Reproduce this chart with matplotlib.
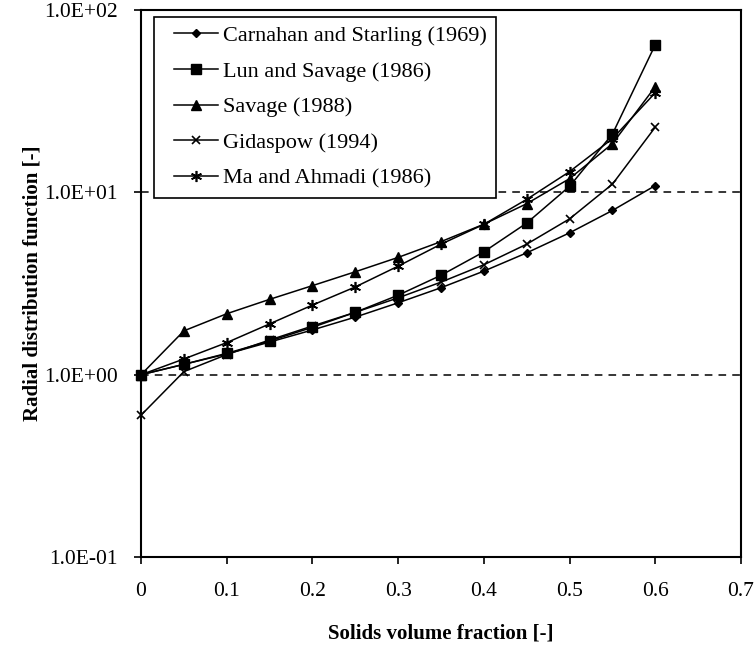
import matplotlib
matplotlib.use("Agg")
import matplotlib.pyplot as plt
from matplotlib.lines import Line2D
from matplotlib.legend_handler import HandlerLine2D
from matplotlib.ticker import FixedLocator, FuncFormatter

plt.rcParams["font.family"] = ["Liberation Serif", "DejaVu Serif"]

# solids volume fraction
eps = [0.0, 0.05, 0.10, 0.15, 0.20, 0.25, 0.30, 0.35, 0.40, 0.45, 0.50, 0.55, 0.60]

# radial distribution function
carnahan = [1.0, 1.14, 1.30, 1.51, 1.76, 2.07, 2.48, 3.00, 3.70, 4.66, 6.0, 7.96, 10.9]
lun = [1.0, 1.14, 1.31, 1.53, 1.82, 2.20, 2.73, 3.51, 4.72, 6.79, 10.8, 20.9, 64.6]
savage = [1.0, 1.74, 2.16, 2.59, 3.08, 3.67, 4.40, 5.37, 6.69, 8.67, 11.9, 18.5, 38.0]
gidaspow = [0.6, 1.04, 1.29, 1.55, 1.85, 2.20, 2.64, 3.22, 4.01, 5.20, 7.16, 11.1, 22.8]
ma_ahmadi = [1.0, 1.22, 1.50, 1.90, 2.41, 3.03, 3.94, 5.20, 6.68, 9.16, 13.0, 19.7, 35.2]

labels = [
    "Carnahan and Starling (1969)",
    "Lun and Savage (1986)",
    "Savage (1988)",
    "Gidaspow (1994)",
    "Ma and Ahmadi (1986)",
]


class PadHandler(HandlerLine2D):
    """Legend line handler with some blank space left of the line."""

    def __init__(self, lpad, **kw):
        super().__init__(**kw)
        self.lpad = lpad

    def create_artists(self, legend, orig_handle, xdescent, ydescent,
                       width, height, fontsize, trans):
        return super().create_artists(legend, orig_handle,
                                      xdescent - self.lpad, ydescent,
                                      width - self.lpad, height, fontsize, trans)


fig = plt.figure(figsize=(7.55, 6.47), dpi=100)
ax = fig.add_axes([0.1868, 0.139, 0.7947, 0.8455])

styles = [
    dict(marker="D", markersize=4.5),
    dict(marker="s", markersize=6.5),
    dict(marker="^", markersize=7),
    dict(marker="x", markersize=6, markeredgewidth=1.2),
    dict(marker=(6, 2, 0), markersize=8, markeredgewidth=1.2),
]
series = [carnahan, lun, savage, gidaspow, ma_ahmadi]
for vals, lab, st in zip(series, labels, styles):
    ax.plot(eps, vals, color="black", lw=1.1, label=lab, clip_on=False,
            zorder=3, **st)

ax.set_yscale("log")
ax.set_ylim(0.1, 100)
ax.set_xlim(0, 0.7)
ax.yaxis.set_major_locator(FixedLocator([0.1, 1, 10, 100]))
ax.yaxis.set_minor_locator(FixedLocator([]))
ax.yaxis.set_major_formatter(FuncFormatter(lambda v, p: "%.1E" % v))
ax.set_xticks([0, 0.1, 0.2, 0.3, 0.4, 0.5, 0.6, 0.7])
ax.set_xticklabels(["0", "0.1", "0.2", "0.3", "0.4", "0.5", "0.6", "0.7"])

for yv in (1, 10):
    ax.axhline(yv, color="black", lw=1.1, ls=(0, (5, 4)), zorder=1)

for s in ax.spines.values():
    s.set_linewidth(1.5)
ax.tick_params(direction="out", length=5, width=1.2, labelsize=15.5, pad=12)
ax.tick_params(axis="x", pad=13)

ax.set_xlabel("Solids volume fraction [-]", fontsize=15, fontweight="bold",
              labelpad=16)
ax.set_ylabel("Radial distribution function [-]", fontsize=15,
              fontweight="bold", labelpad=1)

leg = ax.legend(loc="upper left", bbox_to_anchor=(0.021, 0.988), fontsize=16,
                frameon=True, fancybox=False, edgecolor="black",
                handlelength=2.48, labelspacing=0.68, borderpad=0.4,
                handletextpad=0.23, borderaxespad=0,
                handler_map={Line2D: PadHandler(8.6)})
leg.get_frame().set_linewidth(1.2)
leg.get_frame().set_alpha(1)

fig.savefig("out.png", dpi=100)
